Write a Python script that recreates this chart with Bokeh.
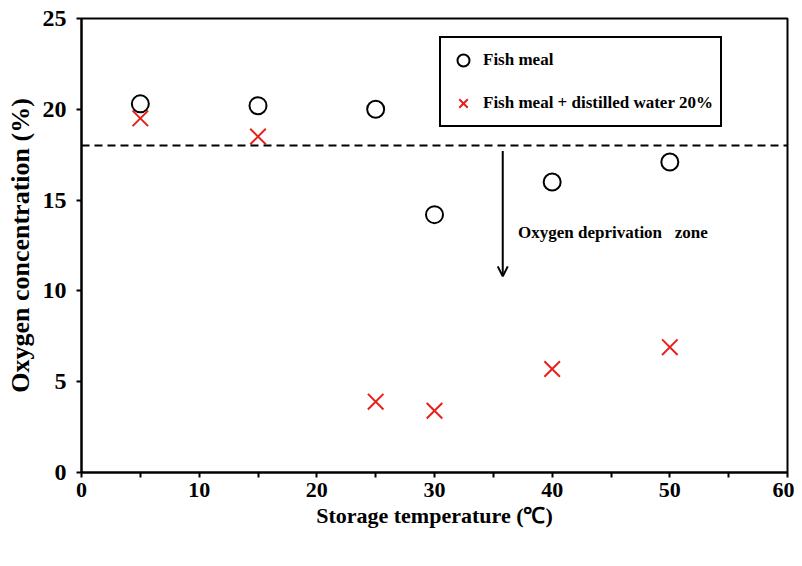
from bokeh.plotting import figure
from bokeh.models import Span, Arrow, OpenHead, Label, Legend, LegendItem, FixedTicker
from bokeh.embed import file_html
from bokeh.resources import INLINE

# Data
temperature = [5, 15, 25, 30, 40, 50]
fish_meal = [20.3, 20.2, 20.0, 14.2, 16.0, 17.1]
fish_meal_water = [19.5, 18.5, 3.9, 3.4, 5.7, 6.9]
threshold = 18
x_ticks = [0, 10, 20, 30, 40, 50, 60]
x_minor = [5, 15, 25, 35, 45, 55]
y_ticks = [0, 5, 10, 15, 20, 25]

FONT = "Liberation Serif"

p = figure(width=794, height=558, x_range=(0, 60), y_range=(0, 25),
           output_backend="svg", toolbar_location=None,
           min_border_left=81, min_border_right=7, min_border_top=18, min_border_bottom=86)
p.grid.visible = False
p.outline_line_color = "black"
p.outline_line_width = 2
p.outline_line_alpha = 1
p.background_fill_color = "white"
p.border_fill_color = "white"

r1 = p.scatter(temperature, fish_meal, marker="circle", size=17, fill_color=None,
               line_color="black", line_width=2)
r2 = p.scatter(temperature, fish_meal_water, marker="x", size=22,
               line_color="#e8201c", line_width=2)

# axes
for ax in (p.xaxis[0], p.yaxis[0]):
    ax.axis_line_width = 2
    ax.axis_line_color = "black"
    ax.major_tick_line_width = 2
    ax.minor_tick_line_width = 2
    ax.major_tick_in = 0
    ax.major_tick_out = 5
    ax.minor_tick_in = 0
    ax.minor_tick_out = 5
    ax.major_label_text_font = FONT
    ax.major_label_text_font_style = "bold"
    ax.major_label_text_color = "black"
    ax.axis_label_text_font = FONT
    ax.axis_label_text_font_style = "bold"
    ax.axis_label_text_color = "black"

p.xaxis.ticker = FixedTicker(ticks=x_ticks, minor_ticks=x_minor)
p.yaxis.ticker = FixedTicker(ticks=y_ticks, minor_ticks=[])
p.xaxis.major_label_text_font_size = "22px"
p.yaxis.major_label_text_font_size = "24px"
p.xaxis.major_label_standoff = 5
p.yaxis.major_label_standoff = 10
p.xaxis.axis_label = "Storage temperature (\u2103)"
p.yaxis.axis_label = "Oxygen concentration (%)"
p.xaxis.axis_label_text_font_size = "22px"
p.yaxis.axis_label_text_font_size = "26px"
p.xaxis.axis_label_standoff = 3
p.yaxis.axis_label_standoff = 5

# threshold line
p.add_layout(Span(location=threshold, dimension="width", line_color="black",
                  line_width=2, line_dash="8 5"))

# arrow + annotation
p.add_layout(Arrow(end=OpenHead(size=10, line_width=2, line_color="black"),
                   x_start=35.8, y_start=17.7, x_end=35.8, y_end=10.8,
                   line_width=2, line_color="black"))
p.add_layout(Label(x=37.1, y=13.2, text="Oxygen deprivation\u00a0\u00a0 zone",
                   text_font=FONT, text_font_style="bold", text_font_size="17px",
                   text_baseline="middle", text_color="black"))

legend = Legend(items=[LegendItem(label="Fish meal", renderers=[r1]),
                       LegendItem(label="Fish meal + distilled water 20%", renderers=[r2])],
                location=(358, 345), margin=0, padding=7, spacing=13,
                glyph_width=30, glyph_height=30, label_height=30, label_standoff=5,
                label_text_font=FONT, label_text_font_style="bold",
                label_text_font_size="17px", label_text_color="black",
                border_line_color="black", border_line_width=2, border_line_alpha=1,
                background_fill_color="white", background_fill_alpha=1)
p.add_layout(legend, "center")

open("out.html", "w").write(file_html(p, INLINE))
